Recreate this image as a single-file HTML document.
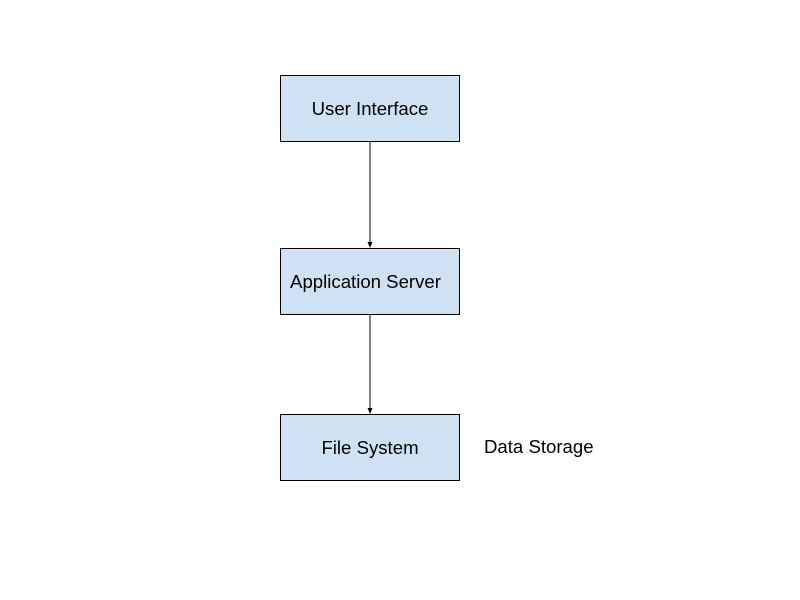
<!DOCTYPE html>
<html><head><style>
html,body{margin:0;padding:0;background:#fff;width:800px;height:600px;overflow:hidden}
</style></head><body>
<svg width="800" height="600" xmlns="http://www.w3.org/2000/svg" font-family="Liberation Sans, Arial, sans-serif" font-size="18.6">
<rect x="280.5" y="75.5" width="179" height="66" fill="#cfe2f3" stroke="#000" stroke-width="1"/>
<rect x="280.5" y="248.5" width="179" height="66" fill="#cfe2f3" stroke="#000" stroke-width="1"/>
<rect x="280.5" y="414.5" width="179" height="66" fill="#cfe2f3" stroke="#000" stroke-width="1"/>
<line x1="370" y1="142" x2="370" y2="243" stroke="#000"/>
<polygon points="367.5,242 372.5,242 370,248" fill="#000"/>
<line x1="370" y1="315" x2="370" y2="409" stroke="#000"/>
<polygon points="367.5,408 372.5,408 370,414" fill="#000"/>
<text x="370" y="115" text-anchor="middle">User Interface</text>
<text x="365.5" y="288" text-anchor="middle">Application Server</text>
<text x="370" y="454" text-anchor="middle">File System</text>
<text x="484" y="453">Data Storage</text>
</svg>
</body></html>
